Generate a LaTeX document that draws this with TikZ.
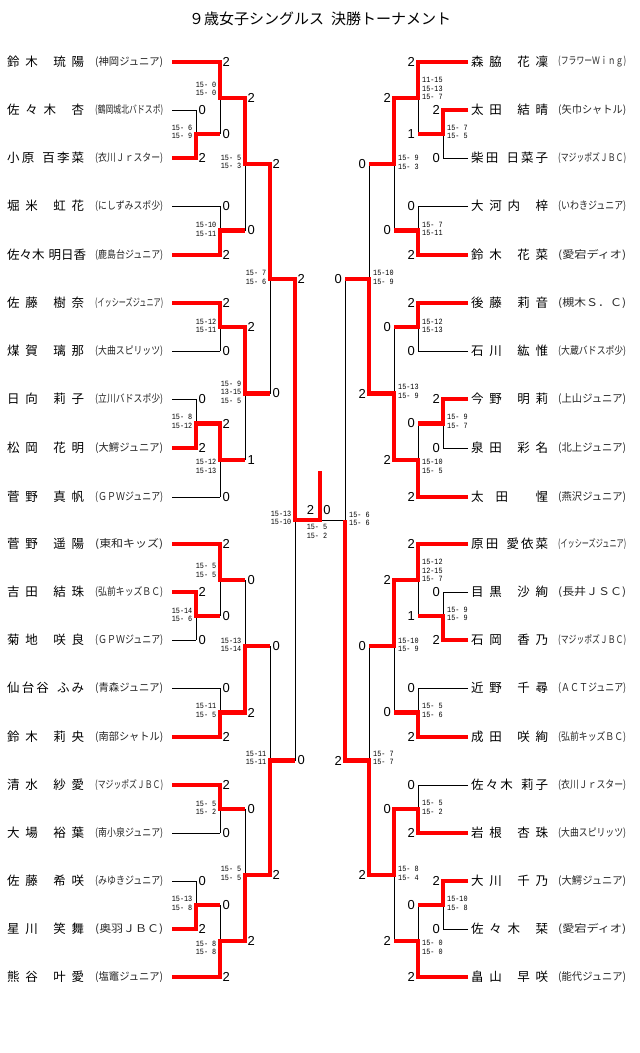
\documentclass[tikz,border=0pt]{standalone}
\usepackage{fontspec}
\usepackage{graphicx}
\newfontfamily\jp{Noto Sans CJK JP}
\newfontfamily\lsans{Liberation Sans}
\newfontfamily\lmono{Liberation Mono}
\def\sprfirst#1#2\relax{#1\sprrest#2\relax}
\def\sprrest#1{\ifx\relax#1\else\hfil#1\expandafter\sprrest\fi}
\newcommand\namebox[2]{\makebox[77pt][s]{\jp\fontsize{12.5pt}{13pt}\selectfont\sprfirst#1\relax\hskip 4pt plus 2fil\relax\sprfirst#2\relax}}
\newcommand\clubtxt[1]{\resizebox*{68pt}{11pt}{\jp #1}}
\newcommand\scoretxt[1]{\scalebox{0.85}[1]{\lmono\fontsize{8pt}{8.5pt}\selectfont\begin{tabular}{@{}l@{}}#1\end{tabular}}}
\newcounter{lab}
\newcommand\Lpl[5]{\node[inner sep=0pt,anchor=west] (ln#1) at (7,#2) {\namebox{#3}{#4}};
  \node[inner sep=0pt,anchor=west,text=black!85] (lc#1) at (95,#2) {\clubtxt{#5}};}
\newcommand\Rpl[5]{\node[inner sep=0pt,anchor=west] (rn#1) at (471,#2) {\namebox{#3}{#4}};
  \node[inner sep=0pt,anchor=west,text=black!85] (rc#1) at (558,#2) {\clubtxt{#5}};}
\newcommand\Ls[3]{\stepcounter{lab}\node[big,anchor=west] (s\thelab) at (#1+2.5,#2) {#3};}
\newcommand\Rs[3]{\stepcounter{lab}\node[big,anchor=east] (s\thelab) at (#1-3,#2) {#3};}
\newcommand\Lg[3]{\stepcounter{lab}\node[inner sep=0pt,anchor=east] (g\thelab) at (#1-3.5,#2) {\scoretxt{#3}};}
\newcommand\Rg[3]{\stepcounter{lab}\node[inner sep=0pt,anchor=west] (g\thelab) at (#1+4,#2) {\scoretxt{#3}};}
\begin{document}
\begin{tikzpicture}[x=1pt,y=-1pt,
  blk/.style={draw=black,line width=1pt},
  rd/.style={draw=red,line width=4.3pt},
  big/.style={inner sep=0pt,font={\lsans\fontsize{13pt}{13pt}\selectfont}}]
\fill[white] (0,0) rectangle (640,1053);
\useasboundingbox (0,0) rectangle (640,1053);
\node[anchor=west,inner sep=0pt,font={\jp\fontsize{15pt}{15pt}\selectfont}] (title) at (189,19) {９歳女子シングルス\hspace{7pt}決勝トーナメント};
% players left
\Lpl{0}{62}{鈴木}{琉陽}{(神岡ジュニア)}
\Lpl{1}{110}{佐々木}{杏}{(鶴岡城北バドスポ)}
\Lpl{2}{158}{小原}{百李菜}{(衣川Ｊｒスター)}
\Lpl{3}{206}{堀米}{虹花}{(にしずみスポ少)}
\Lpl{4}{255}{佐々木}{明日香}{(鹿島台ジュニア)}
\Lpl{5}{303}{佐藤}{樹奈}{(イッシーズジュニア)}
\Lpl{6}{351}{煤賀}{璃那}{(大曲スピリッツ)}
\Lpl{7}{399}{日向}{莉子}{(立川バドスポ少)}
\Lpl{8}{448}{松岡}{花明}{(大鰐ジュニア)}
\Lpl{9}{497}{菅野}{真帆}{(ＧＰＷジュニア)}
\Lpl{10}{544}{菅野}{遥陽}{(東和キッズ)}
\Lpl{11}{592}{吉田}{結珠}{(弘前キッズＢＣ)}
\Lpl{12}{640}{菊地}{咲良}{(ＧＰＷジュニア)}
\Lpl{13}{688}{仙台谷}{ふみ}{(青森ジュニア)}
\Lpl{14}{737}{鈴木}{莉央}{(南部シャトル)}
\Lpl{15}{785}{清水}{紗愛}{(マジッポズＪＢＣ)}
\Lpl{16}{833}{大場}{裕葉}{(南小泉ジュニア)}
\Lpl{17}{881}{佐藤}{希咲}{(みゆきジュニア)}
\Lpl{18}{929}{星川}{笑舞}{(奥羽ＪＢＣ)}
\Lpl{19}{977}{熊谷}{叶愛}{(塩竈ジュニア)}
% players right
\Rpl{0}{62}{森脇}{花凜}{(フラワーＷｉｎｇ)}
\Rpl{1}{110}{太田}{結晴}{(矢巾シャトル)}
\Rpl{2}{158}{柴田}{日菜子}{(マジッポズＪＢＣ)}
\Rpl{3}{206}{大河内}{梓}{(いわきジュニア)}
\Rpl{4}{255}{鈴木}{花菜}{(愛宕ディオ)}
\Rpl{5}{303}{後藤}{莉音}{(槻木Ｓ．Ｃ)}
\Rpl{6}{351}{石川}{紘惟}{(大蔵バドスポ少)}
\Rpl{7}{399}{今野}{明莉}{(上山ジュニア)}
\Rpl{8}{448}{泉田}{彩名}{(北上ジュニア)}
\Rpl{9}{497}{太田}{惺}{(燕沢ジュニア)}
\Rpl{10}{544}{原田}{愛依菜}{(イッシーズジュニア)}
\Rpl{11}{592}{目黒}{沙絢}{(長井ＪＳＣ)}
\Rpl{12}{640}{石岡}{香乃}{(マジッポズＪＢＣ)}
\Rpl{13}{688}{近野}{千尋}{(ＡＣＴジュニア)}
\Rpl{14}{737}{成田}{咲絢}{(弘前キッズＢＣ)}
\Rpl{15}{785}{佐々木}{莉子}{(衣川Ｊｒスター)}
\Rpl{16}{833}{岩根}{杏珠}{(大曲スピリッツ)}
\Rpl{17}{881}{大川}{千乃}{(大鰐ジュニア)}
\Rpl{18}{929}{佐々木}{栞}{(愛宕ディオ)}
\Rpl{19}{977}{畠山}{早咲}{(能代ジュニア)}
% black player lines
\foreach \y/\e/\f in {62/220/418,110/196/443,158/196/443,206/220/418,255/220/418,303/220/418,351/220/418,399/196/443,448/196/443,497/220/418,544/220/418,592/196/443,640/196/443,688/220/418,737/220/418,785/220/418,833/220/418,881/196/443,929/196/443,977/220/418}{
  \draw[blk] (172,\y) -- (\e,\y);
  \draw[blk] (468,\y) -- (\f,\y);
}
% black verticals left
\foreach \x/\a/\b in {196/110/158,196/399/448,196/592/640,196/881/929,
  220/62/134,220/206/255,220/303/351,220/423.5/497,220/544/616,220/688/737,220/785/833,220/905/977,
  245/98/230.5,245/327/460,245/580/712.5,245/809/941,
  270/164/393.5,270/646/875,295/279/760.5}{
  \draw[blk] (\x,\a) -- (\x,\b);
}
% black verticals right
\foreach \x/\a/\b in {443/110/158,443/399/448,443/592/640,443/881/929,
  418/62/134,418/206/255,418/303/351,418/423.5/497,418/544/616,418/688/737,418/785/833,418/905/977,
  394/98/230.5,394/327/460,394/580/712.5,394/809/941,
  369/164/393.5,369/646/875,345/279/760.5}{
  \draw[blk] (\x,\a) -- (\x,\b);
}
\draw[blk] (295,520) -- (345,520);
% red paths left
\draw[rd] (172,62)--(220,62)--(220,98)--(245,98)--(245,164)--(270,164)--(270,279)--(295,279)--(295,520)--(320,520)--(320,471);
\draw[rd] (172,158)--(196,158)--(196,134)--(220,134);
\draw[rd] (172,255)--(220,255)--(220,230.5)--(245,230.5);
\draw[rd] (172,303)--(220,303)--(220,327)--(245,327)--(245,393.5)--(270,393.5);
\draw[rd] (172,448)--(196,448)--(196,423.5)--(220,423.5)--(220,460)--(245,460);
\draw[rd] (172,544)--(220,544)--(220,580)--(245,580);
\draw[rd] (172,592)--(196,592)--(196,616)--(220,616);
\draw[rd] (172,737)--(220,737)--(220,712.5)--(245,712.5)--(245,646)--(270,646);
\draw[rd] (172,785)--(220,785)--(220,809)--(245,809);
\draw[rd] (172,929)--(196,929)--(196,905)--(220,905);
\draw[rd] (172,977)--(220,977)--(220,941)--(245,941)--(245,875)--(270,875)--(270,760.5)--(295,760.5);
% red paths right
\draw[rd] (468,62)--(418,62)--(418,98)--(394,98)--(394,164)--(369,164);
\draw[rd] (468,110)--(443,110)--(443,134)--(418,134);
\draw[rd] (468,255)--(418,255)--(418,230.5)--(394,230.5);
\draw[rd] (468,303)--(418,303)--(418,327)--(394,327);
\draw[rd] (468,399)--(443,399)--(443,423.5)--(418,423.5);
\draw[rd] (468,497)--(418,497)--(418,460)--(394,460)--(394,393.5)--(369,393.5)--(369,279)--(345,279);
\draw[rd] (468,544)--(418,544)--(418,580)--(394,580)--(394,646)--(369,646);
\draw[rd] (468,640)--(443,640)--(443,616)--(418,616);
\draw[rd] (468,737)--(418,737)--(418,712.5)--(394,712.5);
\draw[rd] (468,833)--(418,833)--(418,809)--(394,809)--(394,875)--(369,875)--(369,760.5)--(345,760.5)--(345,520);
\draw[rd] (468,881)--(443,881)--(443,905)--(418,905);
\draw[rd] (468,977)--(418,977)--(418,941)--(394,941);
% game counts left
\Ls{196}{110}{0} \Ls{196}{158}{2}
\Ls{220}{62}{2} \Ls{220}{134}{0}
\Ls{220}{206}{0} \Ls{220}{255}{2}
\Ls{245}{98}{2} \Ls{245}{230.5}{0}
\Ls{220}{303}{2} \Ls{220}{351}{0}
\Ls{196}{399}{0} \Ls{196}{448}{2}
\Ls{220}{423.5}{2} \Ls{220}{497}{0}
\Ls{245}{327}{2} \Ls{245}{460}{1}
\Ls{270}{164}{2} \Ls{270}{393.5}{0}
\Ls{196}{592}{2} \Ls{196}{640}{0}
\Ls{220}{544}{2} \Ls{220}{616}{0}
\Ls{220}{688}{0} \Ls{220}{737}{2}
\Ls{245}{580}{0} \Ls{245}{712.5}{2}
\Ls{220}{785}{2} \Ls{220}{833}{0}
\Ls{196}{881}{0} \Ls{196}{929}{2}
\Ls{220}{905}{0} \Ls{220}{977}{2}
\Ls{245}{809}{0} \Ls{245}{941}{2}
\Ls{270}{646}{0} \Ls{270}{875}{2}
\Ls{295}{279}{2} \Ls{295}{760.5}{0}
% game counts right
\Rs{443}{110}{2} \Rs{443}{158}{0}
\Rs{418}{62}{2} \Rs{418}{134}{1}
\Rs{418}{206}{0} \Rs{418}{255}{2}
\Rs{394}{98}{2} \Rs{394}{230.5}{0}
\Rs{418}{303}{2} \Rs{418}{351}{0}
\Rs{443}{399}{2} \Rs{443}{448}{0}
\Rs{418}{423.5}{0} \Rs{418}{497}{2}
\Rs{394}{327}{0} \Rs{394}{460}{2}
\Rs{369}{164}{0} \Rs{369}{393.5}{2}
\Rs{443}{592}{0} \Rs{443}{640}{2}
\Rs{418}{544}{2} \Rs{418}{616}{1}
\Rs{418}{688}{0} \Rs{418}{737}{2}
\Rs{394}{580}{2} \Rs{394}{712.5}{0}
\Rs{418}{785}{0} \Rs{418}{833}{2}
\Rs{443}{881}{2} \Rs{443}{929}{0}
\Rs{418}{905}{0} \Rs{418}{977}{2}
\Rs{394}{809}{0} \Rs{394}{941}{2}
\Rs{369}{646}{0} \Rs{369}{875}{2}
\Rs{345}{279}{0} \Rs{345}{760.5}{2}
\node[big] (fl) at (310.5,510) {2};
\node[big] (fr) at (327,510) {0};
% point scores left
\Lg{196}{133}{15- 6\\15- 9}
\Lg{220}{90}{15- 0\\15- 0}
\Lg{220}{230.5}{15-10\\15-11}
\Lg{245}{163}{15- 5\\15- 3}
\Lg{220}{327}{15-12\\15-11}
\Lg{196}{422.5}{15- 8\\15-12}
\Lg{220}{467.5}{15-12\\15-13}
\Lg{245}{393}{15- 9\\13-15\\15- 5}
\Lg{270}{278.5}{15- 7\\15- 6}
\Lg{196}{616}{15-14\\15- 6}
\Lg{220}{571.5}{15- 5\\15- 5}
\Lg{220}{711.5}{15-11\\15- 5}
\Lg{245}{646}{15-13\\15-14}
\Lg{220}{809}{15- 5\\15- 2}
\Lg{196}{904.5}{15-13\\15- 8}
\Lg{220}{949}{15- 8\\15- 8}
\Lg{245}{874.5}{15- 5\\15- 5}
\Lg{270}{759}{15-11\\15-11}
\Lg{295}{519}{15-13\\15-10}
\node[inner sep=0pt] (gf) at (317,532.5) {\scoretxt{15- 5\\15- 2}};
% point scores right
\Rg{443}{133}{15- 7\\15- 5}
\Rg{418}{89.5}{11-15\\15-13\\15- 7}
\Rg{418}{230}{15- 7\\15-11}
\Rg{394}{163.5}{15- 9\\15- 3}
\Rg{418}{327}{15-12\\15-13}
\Rg{443}{422.5}{15- 9\\15- 7}
\Rg{418}{467.5}{15-10\\15- 5}
\Rg{394}{392.5}{15-13\\15- 9}
\Rg{369}{278.5}{15-10\\15- 9}
\Rg{443}{615}{15- 9\\15- 9}
\Rg{418}{571.5}{15-12\\12-15\\15- 7}
\Rg{418}{711.5}{15- 5\\15- 6}
\Rg{394}{646}{15-10\\15- 9}
\Rg{418}{808.5}{15- 5\\15- 2}
\Rg{443}{904.5}{15-10\\15- 8}
\Rg{418}{948.5}{15- 0\\15- 0}
\Rg{394}{874.5}{15- 8\\15- 4}
\Rg{369}{759}{15- 7\\15- 7}
\Rg{345}{520}{15- 6\\15- 6}
\end{tikzpicture}
\end{document}
